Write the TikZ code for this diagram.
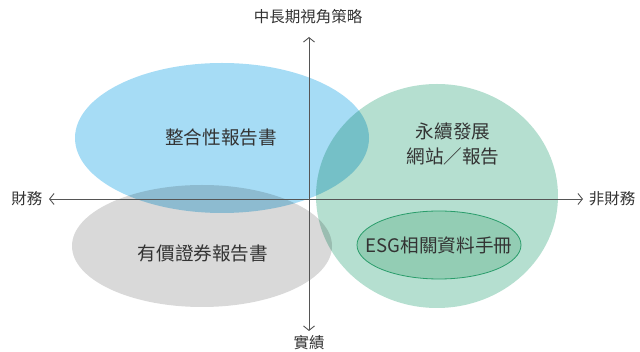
\documentclass[tikz,border=0pt]{standalone}
\usepackage{fontspec}
\newfontfamily\tcfont{Noto Sans CJK TC}
\usepackage{xcolor}
\usetikzlibrary{arrows.meta}

\definecolor{skyblue}{HTML}{A6DCF5}
\definecolor{lightgrey}{HTML}{D9D9D9}
\definecolor{mint}{HTML}{B5DFD0}
\definecolor{esgfill}{HTML}{93CDB4}
\definecolor{esgline}{HTML}{2A9D6B}
\definecolor{axisgrey}{HTML}{555555}
\definecolor{textgrey}{HTML}{333333}

\tikzset{
  axislabel/.style={font=\tcfont\fontsize{15.5}{17}\selectfont, text=textgrey, inner sep=2pt},
  setlabel/.style={font=\tcfont\fontsize{18.6}{25.5}\selectfont, text=textgrey, align=center},
  axisline/.style={axisgrey, line width=0.9pt, {Straight Barb[length=4.5pt,width=11pt]}-{Straight Barb[length=4.5pt,width=11pt]}}
}

\begin{document}
\begin{tikzpicture}[x=1pt, y=-1pt]
        \useasboundingbox (0,0) rectangle (640,352);

        % Draw the sets
        \begin{scope}[blend group=multiply]
          \fill[lightgrey] (202,246) ellipse (130 and 61);
          \fill[mint] (437,196) ellipse (121 and 112);
          \fill[skyblue] (222,138) ellipse (147 and 75);
        \end{scope}
        \draw[esgline, fill=esgfill, line width=0.8pt] (439,245) ellipse (82 and 34);

        % Labels for the sets
        \node[setlabel] (integrated) at (221,137) {整合性報告書};
        \node[setlabel] (website) at (453,144) {永續發展\\網站／報告};
        \node[setlabel] (securities) at (203,253) {有價證券報告書};
        \node[setlabel] (esgbook) at (439,245) {ESG相關資料手冊};

        % Axis labels
        \node[axislabel] (longterm) at (308,17) {中長期視角策略};
        \node[axislabel] (actual) at (309,343) {實績};
        \node[axislabel] (financial) at (27,199) {財務};
        \node[axislabel] (nonfinancial) at (612,199) {非財務};

        % Draw the axes
        \coordinate (top) at (309,37);
        \coordinate (bottom) at (309,331);
        \coordinate (left) at (49,199);
        \coordinate (right) at (583,199);
        \draw[axisline] (top) -- (bottom);
        \draw[axisline] (left) -- (right);
    \end{tikzpicture}
\end{document}
